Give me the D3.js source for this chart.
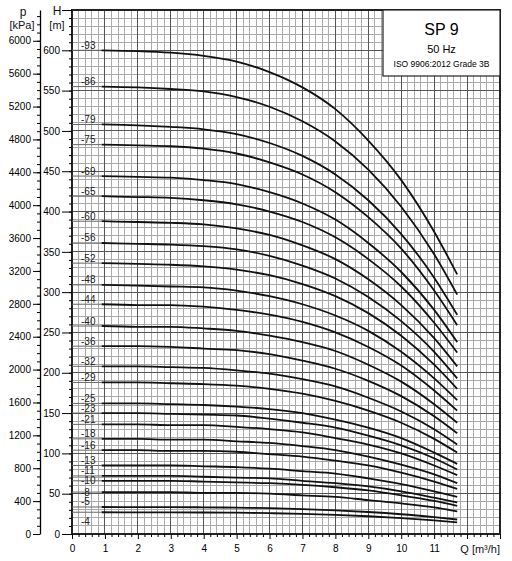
<!DOCTYPE html>
<html>
<head>
<meta charset="utf-8">
<script src="https://cdn.jsdelivr.net/npm/d3@7"></script>
<style>
  body { margin: 0; background: #fff; }
  svg { display: block; font-family: "Liberation Sans", Arial, sans-serif; }
</style>
</head>
<body>
<div id="chart"></div>
<script>
// pump curves SP 9, one line per stage count
const flowQ = [0.9, 2, 3, 4, 5, 6, 7, 8, 9, 10, 11, 11.7];

const stages = [93, 86, 79, 75, 69, 65, 60, 56, 52, 48, 44, 40, 36, 32, 29, 25, 23, 21, 18, 16, 13, 11, 10, 8, 5, 4];

const heads = [
  [600, 599, 597, 593, 586, 573, 554, 527, 488, 439, 375, 322],
  [555, 554, 552, 549, 542, 530, 512, 487, 452, 406, 347, 297],
  [508, 507, 505, 502, 496, 485, 469, 446, 414, 372, 318, 272],
  [483, 482, 481, 478, 472, 461, 446, 424, 393, 354, 302, 259],
  [444, 443, 442, 439, 434, 424, 410, 390, 361, 325, 278, 238],
  [419, 418, 417, 414, 409, 400, 387, 368, 341, 307, 262, 225],
  [388, 387, 386, 384, 379, 371, 358, 341, 316, 284, 243, 208],
  [361, 360, 359, 357, 353, 345, 333, 317, 294, 264, 226, 193],
  [336, 335, 334, 332, 328, 321, 310, 295, 274, 246, 210, 180],
  [309, 308, 307, 306, 302, 295, 285, 271, 252, 226, 193, 166],
  [285, 284, 284, 282, 278, 272, 263, 250, 232, 209, 178, 153],
  [258, 257, 257, 255, 252, 246, 238, 227, 210, 189, 161, 138],
  [233, 233, 232, 230, 228, 223, 215, 205, 190, 171, 146, 125],
  [208, 208, 207, 206, 203, 199, 192, 183, 169, 152, 130, 111],
  [188, 188, 187, 186, 184, 180, 174, 165, 153, 138, 118, 101],
  [162, 162, 161, 160, 158, 155, 150, 142, 132, 119, 101, 87],
  [150, 150, 149, 148, 147, 143, 138, 132, 122, 110, 94, 80],
  [136, 136, 135, 135, 133, 130, 126, 119, 111, 100, 85, 73],
  [118, 118, 117, 117, 115, 113, 109, 104, 96, 86, 74, 63],
  [104, 104, 103, 103, 102, 99, 96, 91, 85, 76, 65, 56],
  [85, 85, 85, 84, 83, 81, 78, 75, 69, 62, 53, 46],
  [72, 72, 72, 71, 70, 69, 66, 63, 59, 53, 45, 39],
  [66, 66, 66, 65, 64, 63, 61, 58, 54, 48, 41, 35],
  [52, 52, 52, 51, 51, 50, 48, 46, 42, 38, 33, 28],
  [33.5, 33.4, 33.3, 33.1, 32.7, 32, 30.9, 29.4, 27.3, 24.5, 20.9, 18],
  [27, 26.9, 26.9, 26.7, 26.4, 25.8, 24.9, 23.7, 22, 19.8, 16.9, 14.5]
];

const qTicks = [0, 1, 2, 3, 4, 5, 6, 7, 8, 9, 10, 11];
const hTicks = [0, 50, 100, 150, 200, 250, 300, 350, 400, 450, 500, 550, 600];
const pTicks = [0, 400, 800, 1200, 1600, 2000, 2400, 2800, 3200, 3600, 4000, 4400, 4800, 5200, 5600, 6000];

const titleLines = ["SP 9", "50 Hz", "ISO 9906:2012 Grade 3B"];

(function () {
  const width = 512;
  const height = 561;
  const left = 72, right = 500, top = 10, bottom = 534;
  const kPaPerM = 9.80665;
  const font = "Liberation Sans, Arial, sans-serif";

  const svg = d3
    .select("#chart")
    .append("svg")
    .attr("width", width)
    .attr("height", height);

  const xScale = d3.scaleLinear().domain([0, 13]).range([left, right]);
  const yScale = d3.scaleLinear().domain([0, 650]).range([bottom, top]);
  const pScale = d3.scaleLinear().domain([0, 650 * kPaPerM]).range([bottom, top]);

  // grid
  const grid = svg.append("g").attr("shape-rendering", "crispEdges");
  const vMinor = d3.range(0, 65).map((i) => i / 5).filter((v) => v % 1 !== 0);
  const hMinor = d3.range(0, 650, 10).filter((v) => v % 50 !== 0);

  grid.selectAll(".vmin").data(vMinor).enter().append("line")
    .attr("x1", (d) => xScale(d)).attr("x2", (d) => xScale(d))
    .attr("y1", top).attr("y2", bottom)
    .attr("stroke", "#aaa").attr("stroke-width", 1);
  grid.selectAll(".hmin").data(hMinor).enter().append("line")
    .attr("x1", left).attr("x2", right)
    .attr("y1", (d) => yScale(d)).attr("y2", (d) => yScale(d))
    .attr("stroke", "#aaa").attr("stroke-width", 1);
  grid.selectAll(".vmaj").data(d3.range(1, 13)).enter().append("line")
    .attr("x1", (d) => xScale(d)).attr("x2", (d) => xScale(d))
    .attr("y1", top).attr("y2", bottom)
    .attr("stroke", "#555").attr("stroke-width", 1);
  grid.selectAll(".hmaj").data(d3.range(50, 650, 50)).enter().append("line")
    .attr("x1", left).attr("x2", right)
    .attr("y1", (d) => yScale(d)).attr("y2", (d) => yScale(d))
    .attr("stroke", "#555").attr("stroke-width", 1);

  grid.append("rect")
    .attr("x", left).attr("y", top)
    .attr("width", right - left).attr("height", bottom - top)
    .attr("fill", "none").attr("stroke", "#222").attr("stroke-width", 1.2);

  // leader lines + labels
  const labelDy = { 8: 0, 10: 0, 4: 9 };
  stages.forEach((n, i) => {
    const h0 = heads[i][0];
    svg.append("line")
      .attr("x1", xScale(0)).attr("x2", xScale(flowQ[0]))
      .attr("y1", yScale(h0)).attr("y2", yScale(h0))
      .attr("stroke", "#666").attr("stroke-width", 1);
    const dy = labelDy[n] !== undefined ? labelDy[n] : -5;
    svg.append("text")
      .attr("x", 81)
      .attr("y", yScale(h0) + dy)
      .attr("dy", "0.35em")
      .attr("font-size", "10px")
      .attr("fill", "#222")
      .text("-" + n);
  });

  // curves
  const line = d3.line()
    .x((d, j) => xScale(flowQ[j]))
    .y((d) => yScale(d))
    .curve(d3.curveMonotoneX);

  svg.append("g").selectAll("path").data(heads).enter().append("path")
    .attr("d", line)
    .attr("fill", "none")
    .attr("stroke", "#111")
    .attr("stroke-width", 1.8);

  // H axis
  svg.append("g")
    .attr("transform", `translate(${left},0)`)
    .call(d3.axisLeft(yScale).tickValues(d3.range(0, 651, 10)).tickSize(3).tickFormat(""))
    .call((g) => g.select(".domain").remove());
  svg.append("g")
    .attr("transform", `translate(${left},0)`)
    .call(d3.axisLeft(yScale).tickValues(hTicks.concat([650])).tickSize(10).tickPadding(2)
      .tickFormat((d) => (d === 650 ? "" : d)))
    .call((g) => g.select(".domain").remove())
    .call((g) => g.selectAll(".tick text").attr("font-size", "10px").attr("font-family", font));

  // p axis
  const pAxisX = 40;
  svg.append("g")
    .attr("transform", `translate(${pAxisX},0)`)
    .call(d3.axisLeft(pScale).tickValues(d3.range(0, 6301, 100)).tickSize(3).tickSizeOuter(0).tickFormat(""))
    .call((g) => g.select(".domain").attr("stroke-width", 1.3));
  svg.append("g")
    .attr("transform", `translate(${pAxisX},0)`)
    .call(d3.axisLeft(pScale).tickValues(pTicks).tickSize(7).tickPadding(2).tickFormat(d3.format("d")))
    .call((g) => g.select(".domain").remove())
    .call((g) => g.selectAll(".tick text").attr("font-size", "10px").attr("font-family", font));

  // Q axis
  svg.append("g")
    .attr("transform", `translate(0,${bottom})`)
    .call(d3.axisBottom(xScale).tickValues(vMinor).tickSize(3).tickFormat(""))
    .call((g) => g.select(".domain").remove());
  svg.append("g")
    .attr("transform", `translate(0,${bottom})`)
    .call(d3.axisBottom(xScale).tickValues(qTicks.concat([12, 13])).tickSize(5).tickPadding(6)
      .tickFormat((d) => (d > 11 ? "" : d)))
    .call((g) => g.select(".domain").remove())
    .call((g) => g.selectAll(".tick text").attr("font-size", "10px").attr("font-family", font));

  // axis titles
  const titles = svg.append("g").attr("font-size", "12px").attr("fill", "#111").attr("text-anchor", "middle");
  titles.append("text").attr("x", 23).attr("y", 16).text("p");
  titles.append("text").attr("x", 22).attr("y", 29).attr("font-size", "11px").text("[kPa]");
  titles.append("text").attr("x", 57).attr("y", 15).text("H");
  titles.append("text").attr("x", 57).attr("y", 29).attr("font-size", "11px").text("[m]");
  titles.append("text").attr("x", 500).attr("y", 553).attr("text-anchor", "end").attr("font-size", "11px")
    .text("Q [m³/h]");

  // title box
  svg.append("rect")
    .attr("x", 383).attr("y", top)
    .attr("width", right - 383).attr("height", 66)
    .attr("fill", "#fff").attr("stroke", "#222").attr("stroke-width", 1.2);
  const cx = (383 + right) / 2;
  svg.append("text").attr("x", cx).attr("y", 35).attr("text-anchor", "middle")
    .attr("font-size", "16px").text(titleLines[0]);
  svg.append("text").attr("x", cx).attr("y", 53).attr("text-anchor", "middle")
    .attr("font-size", "11px").text(titleLines[1]);
  svg.append("text").attr("x", cx).attr("y", 67).attr("text-anchor", "middle")
    .attr("font-size", "8.5px").text(titleLines[2]);
})();
</script>
</body>
</html>
